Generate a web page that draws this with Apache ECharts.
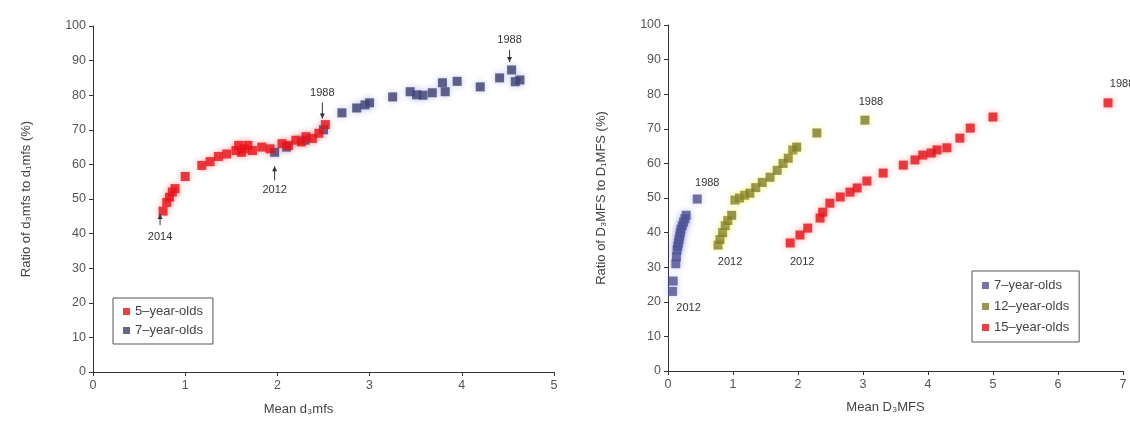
<!DOCTYPE html>
<html>
<head>
<meta charset="utf-8">
<script src="https://cdn.jsdelivr.net/npm/echarts@6/dist/echarts.min.js"></script>
<style>
  html, body { margin: 0; padding: 0; background: #fff; }
  #chart { width: 1130px; height: 421px; }
</style>
</head>
<body>
<div id="chart"></div>
<script>
// ---- Data: [mean score, ratio %] per survey year ----
const fiveYearOldsPrimary = [
  [0.76, 46.5], [0.80, 49], [0.83, 50.5], [0.86, 52], [0.89, 53], [1.00, 56.5],
  [1.18, 59.7], [1.27, 60.8], [1.36, 62.3], [1.45, 63], [1.55, 64], [1.58, 65.5],
  [1.61, 63.5], [1.64, 64.5], [1.68, 65.5], [1.73, 64], [1.83, 65], [1.92, 64.5],
  [2.05, 66], [2.12, 65.5], [2.20, 67], [2.26, 66.5], [2.31, 68], [2.38, 67.5],
  [2.45, 69], [2.52, 71.5]
];
const sevenYearOldsPrimary = [
  [1.97, 63.5], [2.10, 65], [2.30, 67], [2.50, 70], [2.70, 74.9], [2.86, 76.3],
  [2.95, 77.2], [3.00, 77.8], [3.25, 79.5], [3.44, 81], [3.51, 80.1], [3.58, 80],
  [3.68, 80.7], [3.79, 83.6], [3.82, 81], [3.95, 84], [4.20, 82.4], [4.41, 85],
  [4.54, 87.3], [4.58, 83.9], [4.63, 84.4]
];
const sevenYearOldsPermanent = [
  [0.07, 23], [0.08, 26], [0.12, 31], [0.13, 33], [0.14, 35], [0.15, 36],
  [0.16, 37], [0.17, 38], [0.18, 39], [0.19, 40], [0.20, 41], [0.22, 42],
  [0.24, 43], [0.26, 44], [0.28, 45], [0.45, 49.7]
];
const twelveYearOldsPermanent = [
  [0.77, 36.4], [0.80, 38], [0.84, 40], [0.88, 42], [0.92, 43.5], [0.98, 45],
  [1.03, 49.4], [1.10, 50], [1.18, 50.8], [1.26, 51.4], [1.35, 53], [1.45, 54.5],
  [1.57, 56], [1.68, 58], [1.77, 60], [1.85, 61.5], [1.92, 63.9], [1.98, 64.7],
  [2.29, 68.8], [3.03, 72.5]
];
const fifteenYearOldsPermanent = [
  [1.88, 37], [2.03, 39.3], [2.15, 41.3], [2.34, 44.2], [2.38, 45.9], [2.49, 48.5],
  [2.65, 50.3], [2.80, 51.7], [2.91, 52.9], [3.06, 54.9], [3.31, 57.2], [3.62, 59.5],
  [3.80, 61], [3.92, 62.4], [4.05, 63], [4.14, 63.9], [4.29, 64.5], [4.49, 67.3],
  [4.65, 70.2], [5.00, 73.4], [6.77, 77.5]
];

// Year notes: [mean score, ratio %, year]
const leftNotes = [[0.76, 46.5, '2014'], [1.97, 63.5, '2012'], [2.52, 71.5, '1988'], [4.54, 87.3, '1988']];
const rightNotes = [[0.07, 23, '2012'], [0.45, 49.7, '1988'], [0.77, 36.4, '2012'],
                    [3.03, 72.5, '1988'], [1.88, 37, '2012'], [6.77, 77.5, '1988']];

// Axis ticks
const ratioTicks = [0, 10, 20, 30, 40, 50, 60, 70, 80, 90, 100];
const leftMeanMax = 5;
const rightMeanMax = 7;

// Label placement for the notes (pixel offsets from the point; arrow or not)
const leftNotePlacement = [
  { dx: -3, dy: 26, arrow: [14, 3] },
  { dx: 0, dy: 38, arrow: [28, 14] },
  { dx: -3, dy: -32, arrow: [-22, -6] },
  { dx: -2, dy: -30, arrow: [-20, -8] }
];
const rightNotePlacement = [
  { dx: 16, dy: 17 }, { dx: 10, dy: -16 }, { dx: 12, dy: 17 },
  { dx: 6, dy: -18 }, { dx: 12, dy: 19 }, { dx: 14, dy: -19 }
];

const FONT = 'Liberation Sans, Arial, sans-serif';
const AXIS_COLOR = '#333';
const LABEL_COLOR = '#555';

function valueAxis(gridIndex, max, name, extra) {
  return Object.assign({
    type: 'value', gridIndex, min: 0, max, interval: max === 100 ? 10 : 1,
    name, nameLocation: 'middle',
    nameTextStyle: { fontFamily: FONT, fontSize: 13, color: '#444' },
    axisLine: { show: true, lineStyle: { color: AXIS_COLOR, width: 1 } },
    axisTick: { show: true, length: 4, lineStyle: { color: AXIS_COLOR } },
    axisLabel: { fontFamily: FONT, fontSize: 12.5, color: LABEL_COLOR, margin: 7 },
    splitLine: { show: false }
  }, extra);
}

function scatter(name, data, color, xi, glow) {
  return {
    name, type: 'scatter', xAxisIndex: xi, yAxisIndex: xi,
    data, symbol: 'rect', symbolSize: 9,
    itemStyle: { color, shadowBlur: 6, shadowColor: glow },
    z: 3
  };
}

function noteSeries(notes, placement, xi) {
  return {
    type: 'custom', xAxisIndex: xi, yAxisIndex: xi, z: 5,
    data: notes,
    renderItem: function (params, api) {
      const p = api.coord([api.value(0), api.value(1)]);
      const place = placement[params.dataIndex];
      const children = [{
        type: 'text',
        style: {
          x: p[0] + place.dx, y: p[1] + place.dy,
          text: notes[params.dataIndex][2],
          font: '11px ' + FONT, fill: '#333',
          align: 'center', verticalAlign: 'middle'
        }
      }];
      if (place.arrow) {
        const y1 = p[1] + place.arrow[0], y2 = p[1] + place.arrow[1];
        const x = p[0] + place.dx;
        const dir = y2 < y1 ? 1 : -1;
        children.push({
          type: 'line', shape: { x1: x, y1, x2: x, y2 },
          style: { stroke: '#333', lineWidth: 1 }
        });
        children.push({
          type: 'polygon',
          shape: { points: [[x, y2], [x - 2.5, y2 + dir * 5], [x + 2.5, y2 + dir * 5]] },
          style: { fill: '#333' }
        });
      }
      return { type: 'group', children };
    }
  };
}

const chart = echarts.init(document.getElementById('chart'), null, { renderer: 'canvas' });

const nameStyle = (pad) => ({ fontFamily: FONT, fontSize: 13, color: '#444', padding: pad });

chart.setOption({
  animation: false,
  backgroundColor: '#fff',
  grid: [
    { left: 93, right: 576, top: 26, bottom: 48 },
    { left: 668, right: 7, top: 25, bottom: 50 }
  ],
  xAxis: [
    valueAxis(0, leftMeanMax, 'Mean d\u2083mfs', { nameGap: 31, nameTextStyle: nameStyle([0, 50, 0, 0]) }),
    valueAxis(1, rightMeanMax, 'Mean D\u2083MFS', { nameGap: 30, nameTextStyle: nameStyle([0, 20, 0, 0]) })
  ],
  yAxis: [
    valueAxis(0, 100, 'Ratio of d\u2083mfs to d\u2081mfs (%)', { nameGap: 60 }),
    valueAxis(1, 100, 'Ratio of D\u2083MFS to D\u2081MFS (%)', { nameGap: 60 })
  ],
  legend: [
    {
      data: ['5\u2013year-olds', '7\u2013year-olds'],
      left: 113, top: 298, orient: 'vertical',
      icon: 'rect', itemWidth: 7, itemHeight: 7, itemGap: 6,
      padding: [7, 10, 7, 10],
      borderColor: '#555', borderWidth: 1,
      textStyle: { fontFamily: FONT, fontSize: 13, color: '#444' }
    },
    {
      data: ['7\u2013year-olds ', '12\u2013year-olds', '15\u2013year-olds'],
      left: 972, top: 271, orient: 'vertical',
      icon: 'rect', itemWidth: 7, itemHeight: 7, itemGap: 8,
      padding: [8, 10, 8, 10],
      borderColor: '#555', borderWidth: 1,
      textStyle: { fontFamily: FONT, fontSize: 13, color: '#444' }
    }
  ],
  series: [
    scatter('7\u2013year-olds', sevenYearOldsPrimary, '#3d406e', 0, 'rgba(90,100,200,0.45)'),
    scatter('5\u2013year-olds', fiveYearOldsPrimary, '#e3121a', 0, 'rgba(255,40,40,0.5)'),
    noteSeries(leftNotes, leftNotePlacement, 0),
    scatter('7\u2013year-olds ', sevenYearOldsPermanent, '#50538f', 1, 'rgba(100,110,220,0.45)'),
    scatter('12\u2013year-olds', twelveYearOldsPermanent, '#7d7a2e', 1, 'rgba(240,235,60,0.7)'),
    scatter('15\u2013year-olds', fifteenYearOldsPermanent, '#e0141a', 1, 'rgba(255,40,40,0.5)'),
    noteSeries(rightNotes, rightNotePlacement, 1)
  ]
});
</script>
</body>
</html>
